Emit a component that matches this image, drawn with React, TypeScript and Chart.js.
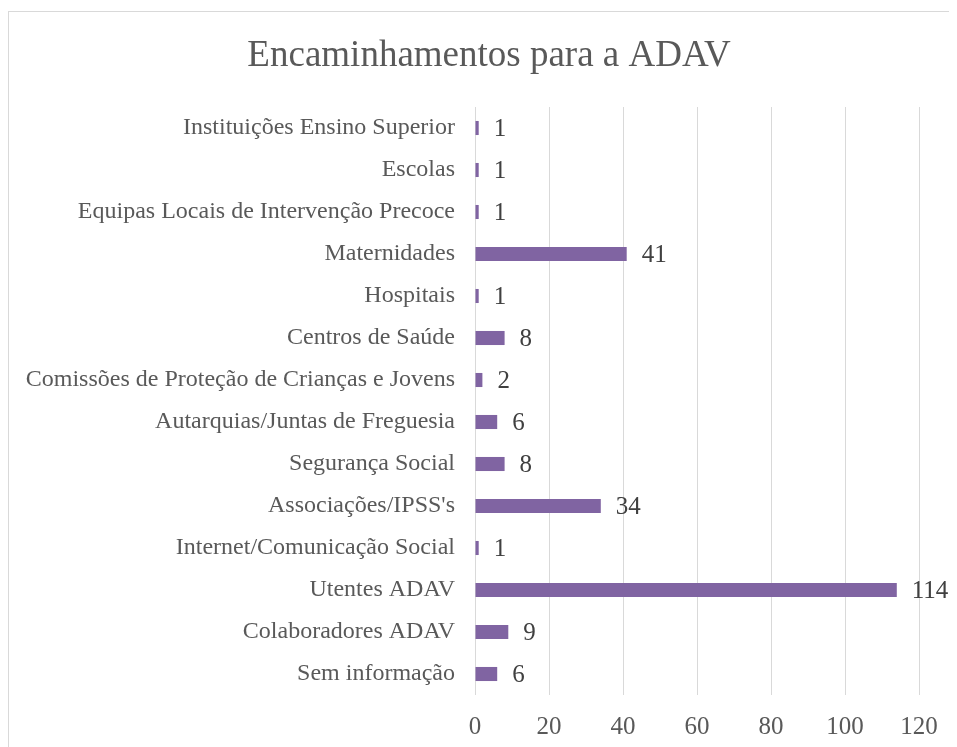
import React, { useEffect, useRef } from "react";
import { Chart, registerables } from "chart.js";

Chart.register(...registerables);

const categories = [
  "Instituições Ensino Superior",
  "Escolas",
  "Equipas Locais de Intervenção Precoce",
  "Maternidades",
  "Hospitais",
  "Centros de Saúde",
  "Comissões de Proteção de Crianças e Jovens",
  "Autarquias/Juntas de Freguesia",
  "Segurança Social",
  "Associações/IPSS's",
  "Internet/Comunicação Social",
  "Utentes ADAV",
  "Colaboradores ADAV",
  "Sem informação",
];

const values = [1, 1, 1, 41, 1, 8, 2, 6, 8, 34, 1, 114, 9, 6];

const titleText = "Encaminhamentos para a ADAV";

const SERIF = "'Liberation Serif', 'Times New Roman', serif";

const dataLabelPlugin = {
  id: "dataLabelPlugin",
  afterDatasetsDraw(chart: any) {
    const ctx = chart.ctx;
    const meta = chart.getDatasetMeta(0);
    ctx.save();
    ctx.font = `25px ${SERIF}`;
    ctx.fillStyle = "#404040";
    ctx.textAlign = "left";
    ctx.textBaseline = "middle";
    meta.data.forEach((bar: any, i: number) => {
      ctx.fillText(String(values[i]), bar.x + 15, bar.y + 1);
    });
    ctx.restore();
  },
};

const titlePlugin = {
  id: "titlePlugin",
  afterDraw(chart: any) {
    const ctx = chart.ctx;
    ctx.save();
    ctx.font = `37px ${SERIF}`;
    ctx.fillStyle = "#595959";
    ctx.textAlign = "center";
    ctx.textBaseline = "alphabetic";
    ctx.fillText(titleText, 480, 54);
    ctx.restore();
  },
};

export default function App() {
  const canvasRef = useRef<HTMLCanvasElement | null>(null);

  useEffect(() => {
    if (!canvasRef.current) return;
    const chart = new Chart(canvasRef.current, {
      type: "bar",
      data: {
        labels: categories,
        datasets: [
          {
            data: values,
            backgroundColor: "#8064A2",
            borderWidth: 0,
            barPercentage: 0.335,
            categoryPercentage: 1,
          },
        ],
      },
      options: {
        indexAxis: "y",
        responsive: false,
        animation: false,
        layout: { padding: { left: 0, right: 50, top: 95, bottom: 0 } },
        plugins: {
          legend: { display: false },
          tooltip: { enabled: false },
          title: { display: false },
        },
        scales: {
          x: {
            min: 0,
            max: 120,
            ticks: {
              stepSize: 20,
              color: "#595959",
              font: { family: SERIF, size: 25 },
              padding: 17,
            },
            grid: { color: "#d9d9d9", lineWidth: 1, drawTicks: false },
            border: { display: false },
            afterFit: (scale: any) => {
              scale.height = 52;
            },
          },
          y: {
            ticks: {
              color: "#595959",
              font: { family: SERIF, size: 24 },
              padding: 20,
              autoSkip: false,
            },
            grid: { display: false, drawTicks: false },
            border: { display: false },
            afterFit: (scale: any) => {
              scale.width = 466;
            },
          },
        },
      },
      plugins: [dataLabelPlugin, titlePlugin],
    });
    return () => chart.destroy();
  }, []);

  return (
    <div
      style={{
        marginTop: 3,
        width: 949,
        height: 736,
        borderTop: "1px solid #d9d9d9",
        borderLeft: "1px solid #d9d9d9",
        boxSizing: "border-box",
        overflow: "hidden",
        position: "relative",
      }}
    >
      <canvas ref={canvasRef} width={960} height={735} style={{ display: "block" }} />
    </div>
  );
}
